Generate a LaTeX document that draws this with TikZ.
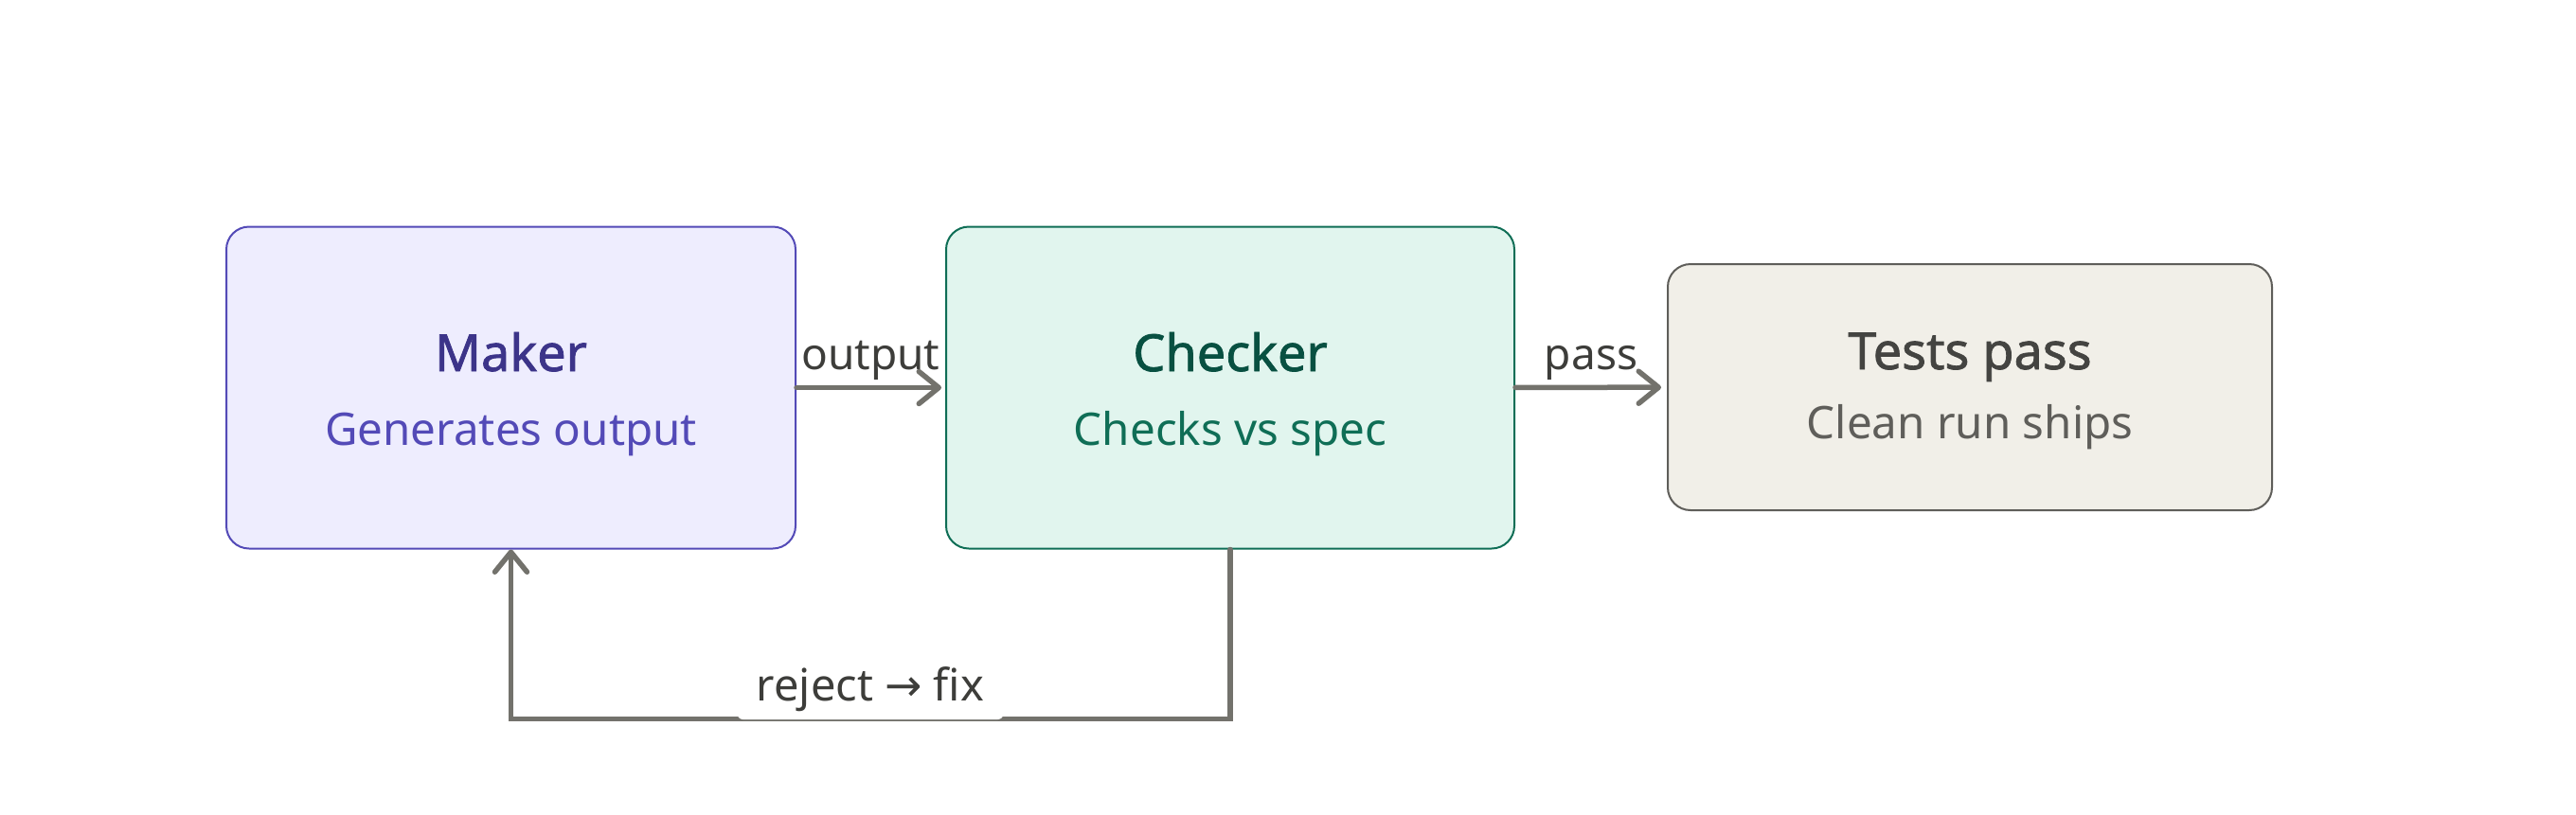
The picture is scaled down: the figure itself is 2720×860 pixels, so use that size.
\documentclass[tikz,border=0pt]{standalone}
\usepackage{fontspec}
\setmainfont{Noto Sans}
\newfontfamily\titlefont{Noto Sans}[FakeBold=1.4]
\newfontfamily\arrowfont{DejaVu Sans}
\usetikzlibrary{arrows.meta}

\definecolor{mkfill}{HTML}{EEEDFE}
\definecolor{mkline}{HTML}{534AB7}
\definecolor{mkhead}{HTML}{3C3489}
\definecolor{ckfill}{HTML}{E1F5EE}
\definecolor{ckline}{HTML}{0F6E56}
\definecolor{ckhead}{HTML}{085041}
\definecolor{tsfill}{HTML}{F1EFE8}
\definecolor{tsline}{HTML}{5F5E5A}
\definecolor{tshead}{HTML}{444441}
\definecolor{flowgray}{HTML}{73726C}
\definecolor{lblgray}{HTML}{3D3D3A}

\begin{document}
\begin{tikzpicture}[x=1pt, y=-1pt, box/.style={rectangle, rounded corners=24, draw=#1line, fill=#1fill, line width=2, inner sep=0}, boxtitle/.style={anchor=base, inner sep=0, text=#1head, font=\fontsize{54}{60}\titlefont\bfseries}, boxsub/.style={anchor=base, inner sep=0, text=#1line, font=\fontsize{47.5}{52}\selectfont}, flow/.style={draw=flowgray, line width=5.5, line cap=round, -{Straight Barb[length=21, width=34, round]}}, edgelbl/.style={anchor=base, yshift=19, text=lblgray, font=\fontsize{46}{52}\selectfont}]

\useasboundingbox (0,0) rectangle (2720,860);

\node [box=mk, minimum width=601, minimum height=340] (maker) at (539.5, 409.5) {};
\node [box=ck, minimum width=600, minimum height=340] (checker) at (1299, 409.5) {};
\node [box=ts, minimum width=638, minimum height=260] (tests) at (2080, 409) {};

\node [boxtitle=mk] (makerT) at (539.5, 392) {Maker};
\node [boxsub=mk] (makerS) at (539.5, 470) {Generates output};
\node [boxtitle=ck] (checkerT) at (1299, 392) {Checker};
\node [boxsub=ck] (checkerS) at (1299, 470) {Checks vs spec};
\node [boxtitle=ts] (testsT) at (2080, 390) {Tests pass};
\node [boxsub=ts] (testsS) at (2080, 463) {Clean run ships};

\draw[flow, shorten >=4] (maker) -- (checker) node [edgelbl, midway] {output};
\draw[flow, shorten >=6] (checker) -- (tests) node [edgelbl, midway] {pass};
\draw[flow] (checker.south) -- ++(0,179) coordinate (loopR) -| (maker.south);

\node [fill=white, rounded corners=6, minimum width=281, minimum height=64, inner sep=0, text=lblgray, font=\fontsize{47}{52}\selectfont] (reject) at (919, 728) {reject {\arrowfont →} fix};

\end{tikzpicture}
\end{document}
